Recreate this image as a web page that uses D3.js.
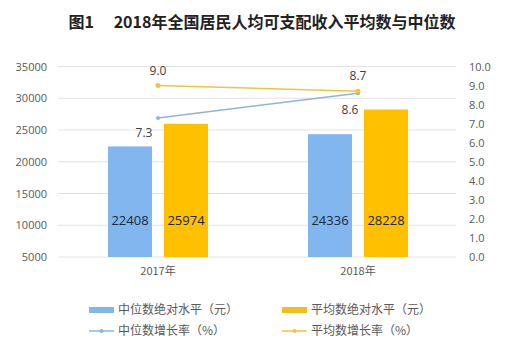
<!DOCTYPE html>
<html>
<head>
<meta charset="utf-8">
<script src="https://cdn.jsdelivr.net/npm/d3@7"></script>
<style>
body { margin: 0; background: #fff; }
svg text { font-family: "Noto Sans CJK SC", "Open Sans", sans-serif; }
</style>
</head>
<body>
<div id="chart"></div>
<script>
var years = ["2017年", "2018年"];
var medianLevel = [22408, 24336];
var meanLevel = [25974, 28228];
var medianGrowth = [7.3, 8.6];
var meanGrowth = [9.0, 8.7];
var leftTicks = [5000, 10000, 15000, 20000, 25000, 30000, 35000];
var rightTicks = [0, 1, 2, 3, 4, 5, 6, 7, 8, 9, 10];

var width = 514, height = 351;
var svg = d3.select("#chart").append("svg")
    .attr("width", width)
    .attr("height", height);

var x0 = d3.scaleBand().domain(years).range([58, 458]);
var yL = d3.scaleLinear().domain([5000, 35000]).range([257, 66.5]);
var yR = d3.scaleLinear().domain([0, 10]).range([257, 66.5]);

// title
svg.append("text")
    .attr("x", 262).attr("y", 28)
    .attr("text-anchor", "middle")
    .attr("font-size", 16).attr("font-weight", "bold")
    .attr("fill", "#222")
    .text("图1　 2018年全国居民人均可支配收入平均数与中位数");

// grid
svg.append("g").selectAll("line")
    .data(leftTicks)
    .enter().append("line")
    .attr("x1", 58).attr("x2", 456)
    .attr("y1", function (d) { return yL(d); })
    .attr("y2", function (d) { return yL(d); })
    .attr("stroke", "#e3e3e3");

// axes
var axL = svg.append("g")
    .attr("transform", "translate(50,0)")
    .call(d3.axisLeft(yL).tickValues(leftTicks).tickSize(0).tickFormat(d3.format("d")));
var axR = svg.append("g")
    .attr("transform", "translate(466,0)")
    .call(d3.axisRight(yR).tickValues(rightTicks).tickSize(0).tickFormat(d3.format(".1f")));
[axL, axR].forEach(function (a) {
    a.select(".domain").remove();
    a.selectAll("text").attr("fill", "#595959").attr("font-size", 11)
        .style("font-family", "'Open Sans', sans-serif");
});

var axX = svg.append("g")
    .attr("transform", "translate(0,262)")
    .call(d3.axisBottom(x0).tickSize(0));
axX.select(".domain").remove();
axX.selectAll("text").attr("fill", "#595959").attr("font-size", 11).attr("dy", "0.9em");

// bars
var barW = 44, gap = 12;
var bars = svg.append("g");
years.forEach(function (yr, i) {
    var c = x0(yr) + x0.bandwidth() / 2;
    bars.append("rect")
        .attr("x", c - gap / 2 - barW).attr("width", barW)
        .attr("y", yL(medianLevel[i])).attr("height", yL(5000) - yL(medianLevel[i]))
        .attr("fill", "#82b6ee");
    bars.append("rect")
        .attr("x", c + gap / 2).attr("width", barW)
        .attr("y", yL(meanLevel[i])).attr("height", yL(5000) - yL(meanLevel[i]))
        .attr("fill", "#ffc000");
    bars.append("text")
        .attr("x", c - gap / 2 - barW / 2).attr("y", 225)
        .attr("text-anchor", "middle").attr("font-size", 13).attr("fill", "#1a2a3a")
        .style("font-family", "'Open Sans', sans-serif")
        .text(medianLevel[i]);
    bars.append("text")
        .attr("x", c + gap / 2 + barW / 2).attr("y", 225)
        .attr("text-anchor", "middle").attr("font-size", 13).attr("fill", "#1a2a3a")
        .style("font-family", "'Open Sans', sans-serif")
        .text(meanLevel[i]);
});

// lines
var cx = function (i) { return x0(years[i]) + x0.bandwidth() / 2; };
var line = d3.line()
    .x(function (d, i) { return cx(i); })
    .y(function (d) { return yR(d); });

function drawSeries(vals, color, r, labelDx, labelDy) {
    svg.append("path")
        .attr("d", line(vals))
        .attr("fill", "none")
        .attr("stroke", color)
        .attr("stroke-width", 1.5);
    svg.append("g").selectAll("circle")
        .data(vals).enter().append("circle")
        .attr("cx", function (d, i) { return cx(i); })
        .attr("cy", function (d) { return yR(d); })
        .attr("r", r).attr("fill", color);
    svg.append("g").selectAll("text")
        .data(vals).enter().append("text")
        .attr("x", function (d, i) { return cx(i) + labelDx[i]; })
        .attr("y", function (d, i) { return yR(d) + labelDy[i]; })
        .attr("text-anchor", "middle").attr("font-size", 12).attr("fill", "#404040")
        .style("font-family", "'Open Sans', sans-serif")
        .text(function (d) { return d.toFixed(1); });
}
drawSeries(medianGrowth, "#8db4de", 2, [-14, -8], [19, 21]);
drawSeries(meanGrowth, "#f3c33f", 2.5, [0, 0], [-11, -11]);

// legend
var lg = svg.append("g").attr("font-size", 12).attr("fill", "#595959");
var items = [
    { label: "中位数绝对水平（元）", color: "#82b6ee", type: "bar", x: 89, y: 310 },
    { label: "平均数绝对水平（元）", color: "#f5bc1a", type: "bar", x: 282, y: 310 },
    { label: "中位数增长率（%）", color: "#8db4de", type: "line", x: 89, y: 331 },
    { label: "平均数增长率（%）", color: "#f3c33f", type: "line", x: 282, y: 331 }
];
items.forEach(function (it) {
    if (it.type === "bar") {
        lg.append("rect").attr("x", it.x).attr("y", it.y - 3).attr("width", 25).attr("height", 6)
            .attr("fill", it.color);
    } else {
        lg.append("line").attr("x1", it.x).attr("x2", it.x + 25)
            .attr("y1", it.y).attr("y2", it.y).attr("stroke", it.color).attr("stroke-width", 1.5);
        lg.append("circle").attr("cx", it.x + 12.5).attr("cy", it.y).attr("r", 2).attr("fill", it.color);
    }
    lg.append("text").attr("x", it.x + 29).attr("y", it.y).attr("dy", "0.35em")
        .attr("fill", "#595959").text(it.label);
});
</script>
</body>
</html>
